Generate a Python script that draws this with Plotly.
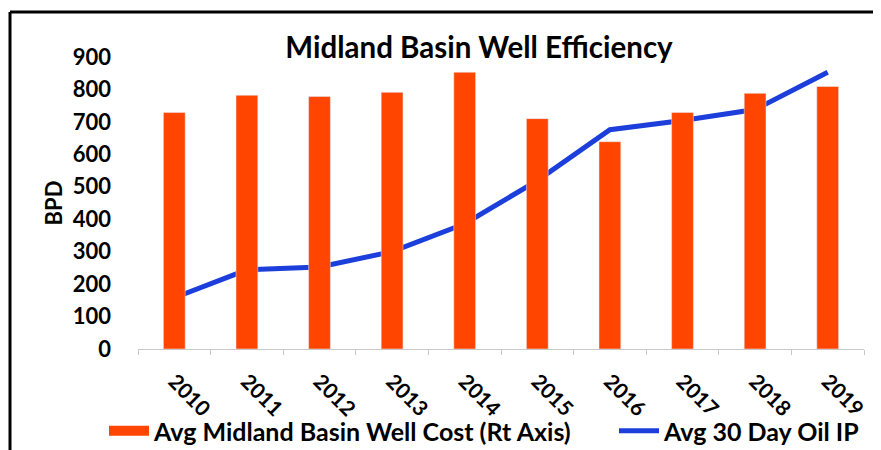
import plotly.graph_objects as go

years = ["2010", "2011", "2012", "2013", "2014", "2015", "2016", "2017", "2018", "2019"]
well_cost = [7.29, 7.82, 7.78, 7.91, 8.53, 7.10, 6.39, 7.29, 7.88, 8.09]  # $MM, right axis
oil_ip = [158, 244, 253, 300, 386, 519, 676, 704, 738, 853]  # BPD, left axis
y_ticks = [0, 100, 200, 300, 400, 500, 600, 700, 800, 900]

FONT = "Lato, 'Open Sans', sans-serif"
ORANGE = "#FF4500"
BLUE = "#1C3FDB"

# figure size / plot-area geometry in figure pixels (page body adds an 8px offset)
W, H = 873, 442
PL, PR, PT, PB = 130, 856, 49, 341
PW, PH = PR - PL, PB - PT

fig = go.Figure()
fig.add_trace(go.Bar(
    x=years, y=well_cost, name="Avg Midland Basin Well Cost (Rt Axis)",
    marker_color=ORANGE, yaxis="y2", showlegend=False,
))
# legend entry for the bars, drawn as a wide swatch
fig.add_trace(go.Scatter(
    x=[None], y=[None], mode="lines", name="Avg Midland Basin Well Cost (Rt Axis)",
    line=dict(color=ORANGE, width=16), legend="legend", hoverinfo="skip",
))
fig.add_trace(go.Scatter(
    x=years, y=oil_ip, name="Avg 30 Day Oil IP", mode="lines",
    line=dict(color=BLUE, width=5), yaxis="y", legend="legend2",
))

legend_common = dict(orientation="h", yanchor="middle", y=(PB - 423) / PH,
                     font=dict(size=25, weight="bold", family=FONT),
                     itemwidth=40, bgcolor="rgba(0,0,0,0)", xanchor="left")

fig.update_layout(
    width=W, height=H,
    margin=dict(l=PL, r=W - PR, t=PT, b=H - PB, autoexpand=False),
    paper_bgcolor="white", plot_bgcolor="white",
    font=dict(family=FONT, color="black"),
    title=dict(text="Midland Basin Well Efficiency", x=471 / W, xanchor="center",
               y=1 - 40 / H, yanchor="middle",
               font=dict(size=29.5, weight="bold", family=FONT)),
    bargap=0.7,
    showlegend=True,
    legend=dict(x=(96 - PL) / PW, **legend_common),
    legend2=dict(x=(606 - PL) / PW, **legend_common),
    xaxis=dict(
        type="category", showline=True, linecolor="#C8C8C8", linewidth=1,
        ticks="outside", tickson="boundaries", ticklen=5, tickcolor="#C8C8C8",
        tickangle=45, tickfont=dict(size=21, weight="bold", family=FONT),
        ticklabelstandoff=11, showgrid=False,
    ),
    yaxis=dict(
        range=[0, 900], tickvals=y_ticks, showgrid=False, showline=False, zeroline=False,
        tickfont=dict(size=22, weight="bold", family=FONT), ticklabelstandoff=26,
        title=dict(text="BPD", font=dict(size=22, weight="bold", family=FONT), standoff=4),
    ),
    yaxis2=dict(
        range=[0, 9], overlaying="y", side="right", visible=False, showgrid=False,
    ),
    shapes=[
        dict(type="line", xref="paper", yref="paper", x0=(2 - PL) / PW, x1=(W - PL) / PW,
             y0=1 + (PT - 4) / PH, y1=1 + (PT - 4) / PH, line=dict(color="black", width=3)),
        dict(type="line", xref="paper", yref="paper", x0=(2 - PL) / PW, x1=(2 - PL) / PW,
             y0=1 + (PT - 4) / PH, y1=(PB - H) / PH, line=dict(color="black", width=3)),
    ],
)

fig.write_html("out.html")
